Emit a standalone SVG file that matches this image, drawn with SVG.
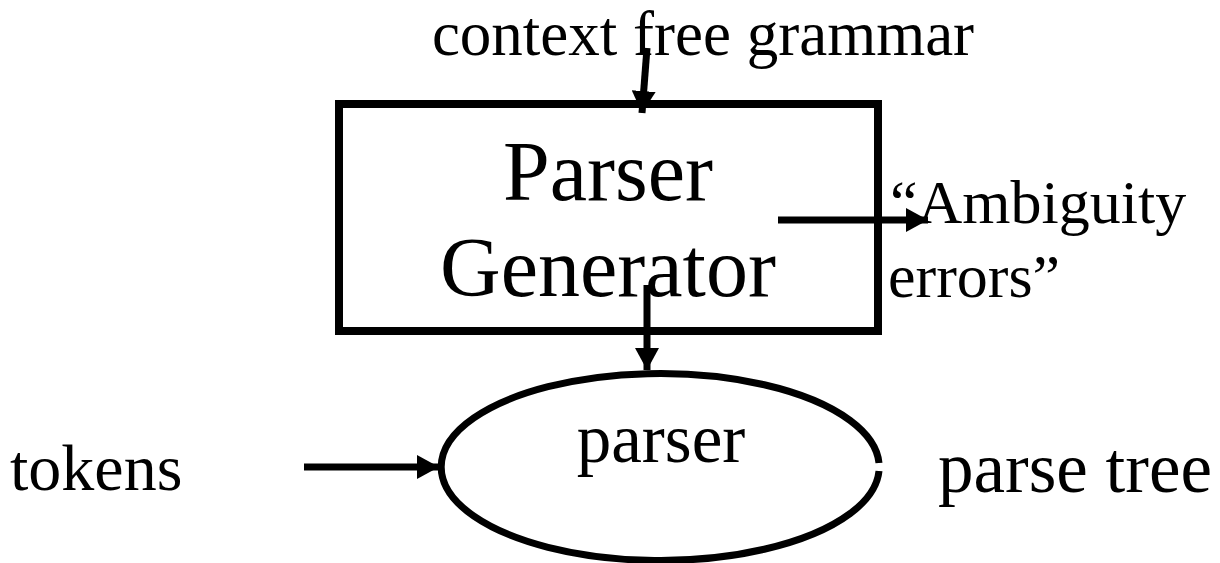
<svg xmlns="http://www.w3.org/2000/svg" width="1220" height="563" viewBox="0 0 1220 563">
<style>
text{font-family:"Liberation Serif","Times New Roman",serif;fill:#000}
.c{stroke:#000;stroke-width:7;fill:none}
</style>
<defs>
<marker id="ah" markerUnits="userSpaceOnUse" markerWidth="24" markerHeight="24" refX="22" refY="12" orient="auto" viewBox="0 0 24 24">
<path d="M0,0 L22,12 L0,24 Z" fill="#000"/>
</marker>
</defs>
<rect width="1220" height="563" fill="#fff"/>
<g id="cfg"><text x="703" y="55" font-size="63" text-anchor="middle">context free grammar</text></g>
<g id="generator">
<rect x="339" y="104" width="539" height="227" fill="none" stroke="#000" stroke-width="8"/>
<text x="608" y="200" font-size="84" text-anchor="middle">Parser</text>
<text x="608" y="296" font-size="84" text-anchor="middle">Generator</text>
</g>
<g id="errors">
<text x="890" y="223" font-size="62">“Ambiguity</text>
<text x="888" y="297" font-size="62">errors”</text>
</g>
<g id="parser">
<path class="c" d="M879,463 A219,93.5 0 1 0 879,471" />
<text x="661" y="462" font-size="69" text-anchor="middle">parser</text>
</g>
<g id="tokens"><text x="10" y="490" font-size="66">tokens</text></g>
<g id="tree"><text x="938" y="492" font-size="71">parse tree</text></g>
<g id="connectors">
<line class="c" x1="647" y1="48" x2="642" y2="113" marker-end="url(#ah)"/>
<line class="c" x1="778" y1="220" x2="928" y2="220" marker-end="url(#ah)"/>
<line class="c" x1="647" y1="285" x2="647" y2="370" marker-end="url(#ah)"/>
<line class="c" x1="304" y1="467" x2="439" y2="467" marker-end="url(#ah)"/>
</g>
</svg>
